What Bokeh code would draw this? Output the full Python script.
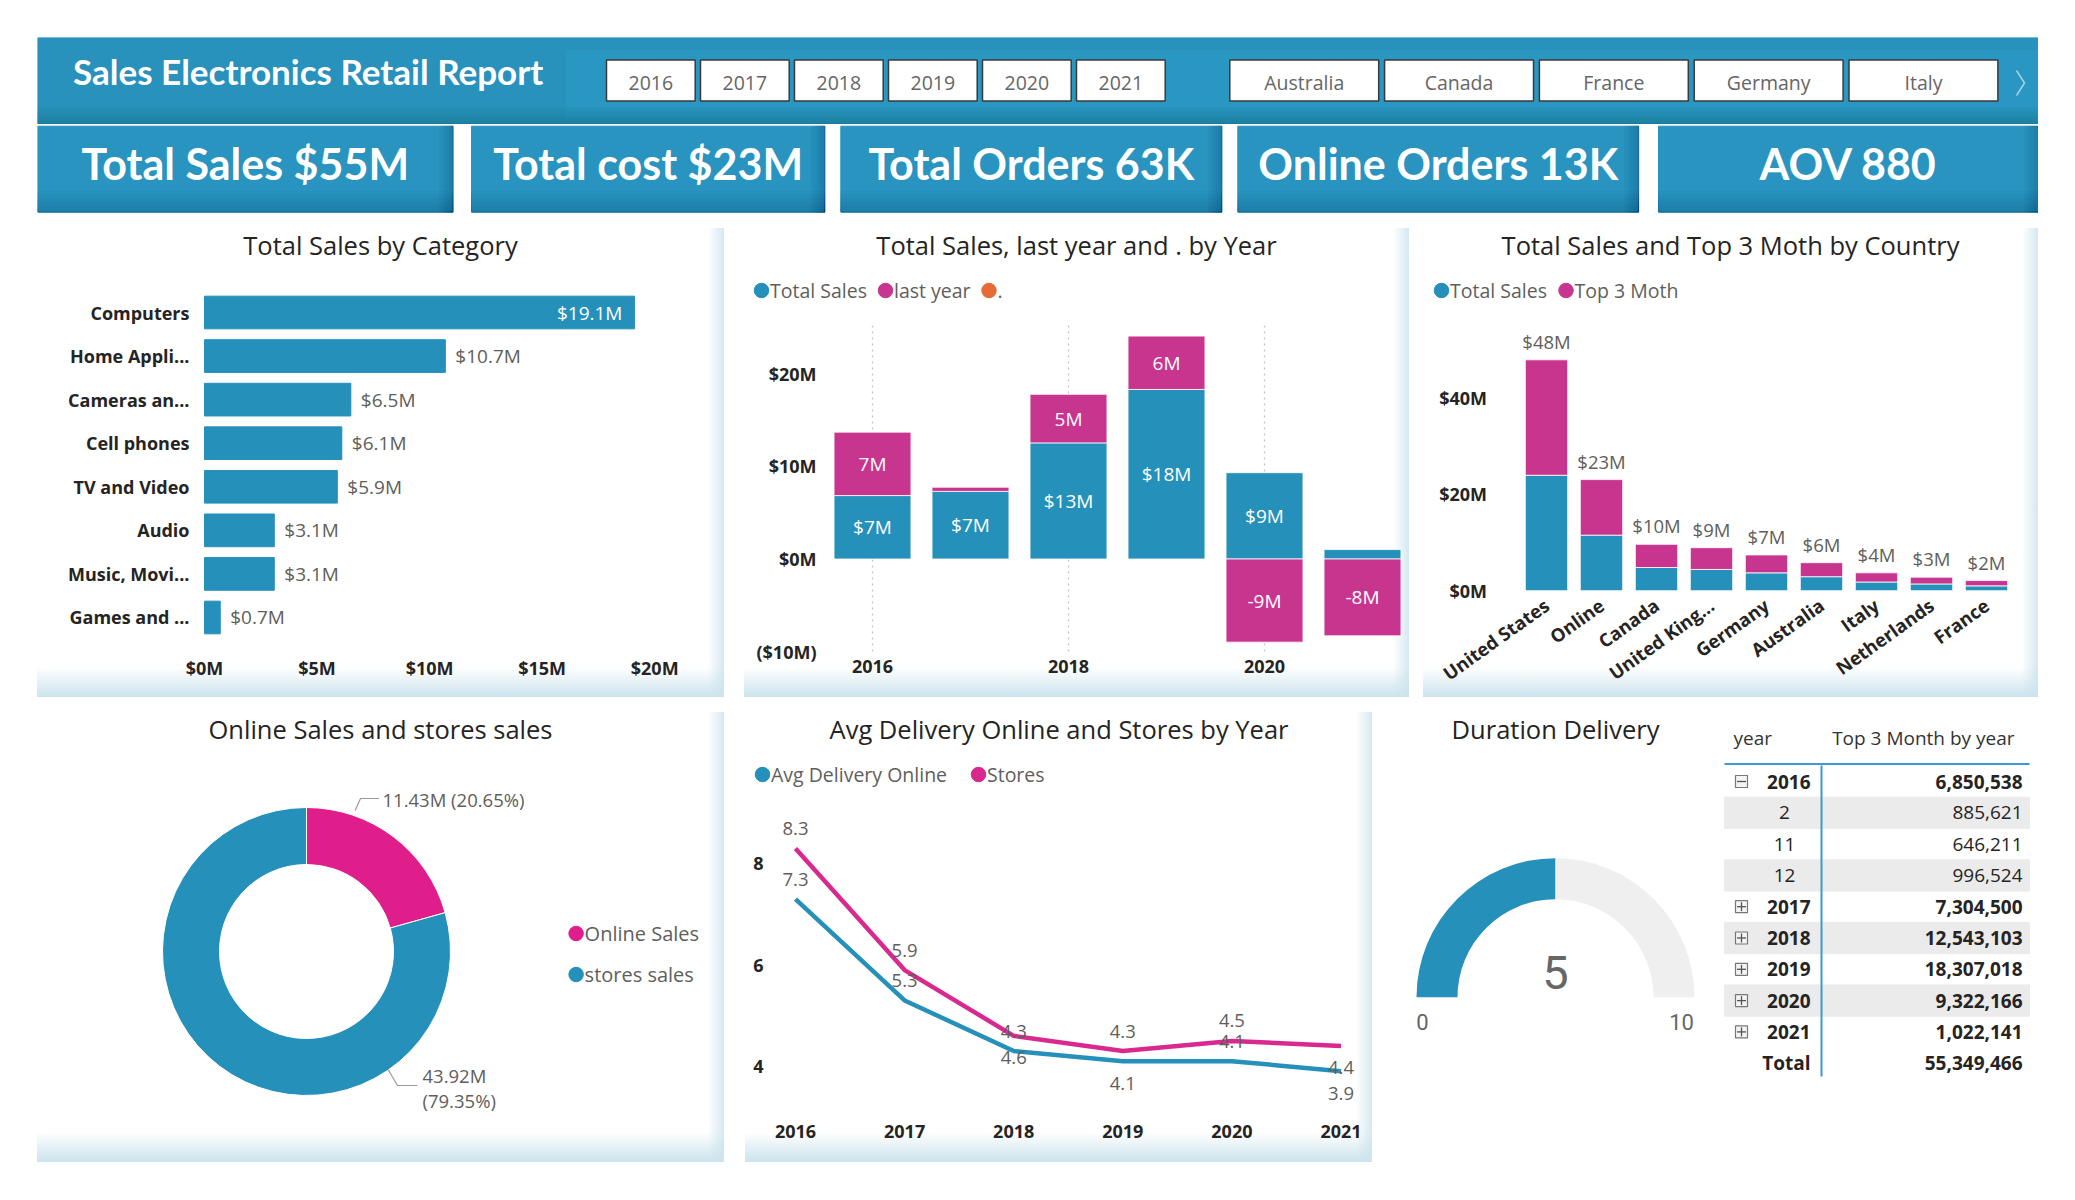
import math

from bokeh.core.properties import value
from bokeh.embed import file_html
from bokeh.layouts import column, row
from bokeh.models import (CustomJSTickFormatter, FixedTicker, Label, PrintfTickFormatter, Range1d)
from bokeh.plotting import figure
from bokeh.resources import INLINE

# ---------------------------------------------------------------- data
KPI_NAMES = ["Total Sales", "Total cost", "Total Orders", "Online Orders", "AOV"]
KPI_VALUES = ["$55M", "$23M", "63K", "13K", "880"]
YEAR_SLICER = ["2016", "2017", "2018", "2019", "2020", "2021"]
COUNTRY_SLICER = ["Australia", "Canada", "France", "Germany", "Italy"]

CATEGORIES = ["Computers", "Home Appli...", "Cameras an...", "Cell phones",
              "TV and Video", "Audio", "Music, Movi...", "Games and ..."]
CATEGORY_SALES = [19.1, 10.7, 6.5, 6.1, 5.9, 3.1, 3.1, 0.7]          # $M

YEARS = [2016, 2017, 2018, 2019, 2020, 2021]
YEAR_SALES = [6.85, 7.30, 12.54, 18.31, 9.32, 1.02]                  # $M
YEAR_CHANGE = [6.85, 0.45, 5.24, 5.76, -8.98, -8.30]                 # vs last year, $M
YEAR_TICKS = [2016, 2018, 2020]

COUNTRIES = ["United States", "Online", "Canada", "United King...", "Germany",
             "Australia", "Italy", "Netherlands", "France"]
COUNTRY_SALES = [23.9, 11.5, 4.8, 4.4, 3.7, 2.9, 1.8, 1.4, 1.0]       # $M
COUNTRY_TOP3 = [23.9, 11.5, 4.8, 4.5, 3.7, 2.9, 1.9, 1.4, 1.1]        # $M

CHANNELS = ["Online Sales", "stores sales"]
CHANNEL_SALES = [11.43, 43.92]                                      # $M

DELIVERY_ONLINE = [7.3, 5.3, 4.3, 4.1, 4.1, 3.9]
DELIVERY_STORES = [8.3, 5.9, 4.6, 4.3, 4.5, 4.4]

GAUGE_MIN, GAUGE_VALUE, GAUGE_MAX = 0, 5, 10

TABLE_YEARS = ["2016", "2017", "2018", "2019", "2020", "2021"]
TABLE_YEAR_VALUES = [6850538, 7304500, 12543103, 18307018, 9322166, 1022141]
TABLE_2016_MONTHS = ["2", "11", "12"]
TABLE_2016_MONTH_VALUES = [885621, 646211, 996524]
TABLE_TOTAL = 55349466

# ---------------------------------------------------------------- styling
TEAL = "#2590BA"
MAGENTA = "#C8358F"
DONUT_PINK = "#E01E8B"
LINE_PINK = "#D9298F"
ORANGE = "#E66C37"
HEADER_BLUE = "#2892BD"
SLICER_BLUE = "#2A97C2"
CARD_BLUE = "#2894BF"
DARK = "#252423"
GRAY = "#605E5C"
GRID_GRAY = "#C4C4C4"
GAUGE_TRACK = "#EFEFEF"
TABLE_BLUE = "#3C9AD2"
ROW_SHADE = "#EBEBEB"

TITLE_FONT = "Open Sans"
LABEL_FONT = "Open Sans"
HEAD_FONT = "Lato"

PANEL_STYLES = {
    "background-color": "#ffffff",
    "background-image": (
        "linear-gradient(to bottom, rgba(255,255,255,0) calc(100% - 30px), rgba(204,227,237,1) 100%), "
        "linear-gradient(to right, rgba(255,255,255,0) calc(100% - 16px), rgba(212,232,240,1) 100%)"
    ),
}


def base_fig(width, height, x_range, y_range, **kw):
    """Chart whose plot frame fills the whole panel; axes are pinned inside it."""
    p = figure(width=width, height=height, x_range=x_range, y_range=y_range,
               output_backend="svg", toolbar_location=None, min_border=0, **kw)
    p.outline_line_color = None
    p.border_fill_alpha = 0
    p.background_fill_alpha = 0
    return p


def pixel_fig(width, height):
    """Figure whose data space is its own pixel grid (y up)."""
    return base_fig(width, height, Range1d(0, width), Range1d(0, height),
                    x_axis_type=None, y_axis_type=None)


def x_span(d0, p0, scale, width):
    """x range putting value d0 at p0 px from the panel's left edge."""
    return Range1d(d0 - p0 / scale, d0 + (width - p0) / scale)


def y_span(d0, p0, scale, height):
    """y range putting value d0 at p0 px below the panel's top edge."""
    return Range1d(d0 - (height - p0) / scale, d0 + p0 / scale)


def style_axis(ax, size=18, standoff=8):
    ax.axis_line_color = None
    ax.major_tick_line_color = None
    ax.minor_tick_line_color = None
    ax.major_tick_out = 0
    ax.major_tick_in = 0
    ax.major_label_standoff = standoff
    ax.major_label_text_font = LABEL_FONT
    ax.major_label_text_font_style = "bold"
    ax.major_label_text_font_size = f"{size}px"
    ax.major_label_text_color = DARK


def add_label(p, x, y, text, size, color=DARK, font=TITLE_FONT, bold=False, align="center"):
    """Text at panel pixel (x, y) measured from the panel's top-left corner."""
    p.add_layout(Label(x=x, y=p.height - y, x_units="screen", y_units="screen",
                       text=text, text_align=align, text_baseline="middle",
                       text_font=font, text_font_size=f"{size}px", text_color=color,
                       text_font_style="bold" if bold else "normal"))


def add_key(p, names, colors, xs, ys, size=19.5):
    """Circle + name legend entries; xs/ys are swatch centres in panel pixels."""
    xr, yr = p.x_range, p.y_range
    dx = [xr.start + x / p.width * (xr.end - xr.start) for x in xs]
    dy = [yr.end - y / p.height * (yr.end - yr.start) for y in ys]
    p.scatter(x=dx, y=dy, marker="circle", size=14.5, fill_color=colors, line_color=colors)
    for name, x, y in zip(names, xs, ys):
        add_label(p, x + 8.5, y, name, size, color=GRAY, font=LABEL_FONT, align="left")


# ---------------------------------------------------------------- header + KPI cards
TOP_W, TOP_H = 2001, 177
top = pixel_fig(TOP_W, TOP_H)


def fy(y):
    return TOP_H - y


top.quad(left=0, right=TOP_W, top=fy(0), bottom=fy(86), color=HEADER_BLUE)
top.quad(left=529, right=TOP_W, top=fy(13), bottom=fy(79), color=SLICER_BLUE)
for i in range(8):
    top.quad(left=0, right=TOP_W, top=fy(70 + 2 * i), bottom=fy(86), color="#123f55", alpha=0.028)

top.text(x=[270.7], y=[fy(33)], text=["Sales Electronics Retail Report"],
         text_font=value(HEAD_FONT), text_font_style="bold", text_font_size="35px",
         text_color="white", text_align="center", text_baseline="middle")

year_left = [569 + i * 94 for i in range(len(YEAR_SLICER))]
top.quad(left=year_left, right=[l + 88.7 for l in year_left], top=fy(22.5), bottom=fy(63.6),
         fill_color="white", line_color="#3a3a3a", line_width=1.5)
top.text(x=[l + 44.35 for l in year_left], y=[fy(45)] * len(YEAR_SLICER), text=YEAR_SLICER,
         text_font=value(LABEL_FONT), text_font_size="19.5px", text_color="#666666",
         text_align="center", text_baseline="middle")
country_left = [1192.3 + i * 154.8 for i in range(len(COUNTRY_SLICER))]
top.quad(left=country_left, right=[l + 148.9 for l in country_left], top=fy(22.5), bottom=fy(63.6),
         fill_color="white", line_color="#3a3a3a", line_width=1.5)
top.text(x=[l + 74.45 for l in country_left], y=[fy(45)] * len(COUNTRY_SLICER), text=COUNTRY_SLICER,
         text_font=value(LABEL_FONT), text_font_size="19.5px", text_color="#666666",
         text_align="center", text_baseline="middle")
top.line(x=[1979, 1987, 1979], y=[fy(33), fy(45.5), fy(58)], line_color="#9fd0e4", line_width=1.6)

CARD_EDGES = [(0, 415.6), (434, 787.4), (803.3, 1184.4), (1200.3, 1601.2), (1621, 2001)]
CARD_TOP, CARD_BOTTOM = 88.7, 174.7
top.quad(left=[a for a, _ in CARD_EDGES], right=[b for _, b in CARD_EDGES],
         top=fy(CARD_TOP), bottom=fy(CARD_BOTTOM), color=CARD_BLUE)
for i in range(10):
    top.quad(left=[a for a, _ in CARD_EDGES], right=[b for _, b in CARD_EDGES],
             top=fy(154 + 2 * i), bottom=fy(CARD_BOTTOM), color="#0d4a66", alpha=0.02)
    top.quad(left=[b - 1.4 * (i + 1) for _, b in CARD_EDGES], right=[b for _, b in CARD_EDGES],
             top=fy(CARD_TOP), bottom=fy(CARD_BOTTOM), color="#0d4a66", alpha=0.02)
top.text(x=[(a + b) / 2 for a, b in CARD_EDGES], y=[fy(126)] * len(KPI_NAMES),
         text=[f"{n} {v}" for n, v in zip(KPI_NAMES, KPI_VALUES)],
         text_font=value(HEAD_FONT), text_font_style="bold", text_font_size="43px",
         text_color="white", text_align="center", text_baseline="middle")

# ---------------------------------------------------------------- Total Sales by Category
W1, H1 = 687, 469
ROW_PX = 43.57                       # px per category row
cat_pos = list(range(len(CATEGORIES)))  # 0 = top row
p1 = base_fig(W1, H1, x_range=x_span(0, 167, 22.51, W1),
              y_range=Range1d((H1 - 84) / ROW_PX, -84 / ROW_PX))
p1.styles = PANEL_STYLES
p1.hbar(y=cat_pos, left=0, right=CATEGORY_SALES, height=0.75, color=TEAL)
cut = 0.8 * max(CATEGORY_SALES)
inside = [(i, v) for i, v in zip(cat_pos, CATEGORY_SALES) if v >= cut]
outside = [(i, v) for i, v in zip(cat_pos, CATEGORY_SALES) if v < cut]
p1.text(x=[v for _, v in inside], y=[i for i, _ in inside], text=[f"${v:.1f}M" for _, v in inside],
        x_offset=-12, text_align="right", text_baseline="middle", text_color="white",
        text_font=value(LABEL_FONT), text_font_size="19px")
p1.text(x=[v for _, v in outside], y=[i for i, _ in outside], text=[f"${v:.1f}M" for _, v in outside],
        x_offset=10, text_align="left", text_baseline="middle", text_color=GRAY,
        text_font=value(LABEL_FONT), text_font_size="19px")
p1.xaxis.ticker = FixedTicker(ticks=[0, 5, 10, 15, 20])
p1.xaxis.formatter = PrintfTickFormatter(format="$%dM")
p1.xaxis.fixed_location = 7.8
p1.yaxis.ticker = FixedTicker(ticks=cat_pos)
p1.yaxis.major_label_overrides = {i: c for i, c in zip(cat_pos, CATEGORIES)}
p1.yaxis.fixed_location = 0
style_axis(p1.xaxis, standoff=4)
style_axis(p1.yaxis, standoff=15)
p1.xgrid.visible = False
p1.ygrid.visible = False
add_label(p1, 343, 16.5, "Total Sales by Category", 25.5)

# ---------------------------------------------------------------- Total Sales, last year by Year
W2, H2 = 665, 469
p2 = base_fig(W2, H2, x_range=x_span(2016, 128, 98, W2), y_range=y_span(0, 330.5, 9.26, H2))
p2.styles = PANEL_STYLES
p2.segment(x0=YEAR_TICKS, x1=YEAR_TICKS, y0=-10, y1=25.5, line_color=GRID_GRAY,
           line_dash="dotted", line_width=1.3)
p2.vbar(x=YEARS, bottom=0, top=YEAR_SALES, width=0.785, fill_color=TEAL,
        line_color="white", line_width=0.8)
chg_bottom = [s if c > 0 else 0 for s, c in zip(YEAR_SALES, YEAR_CHANGE)]
chg_top = [s + c if c > 0 else c for s, c in zip(YEAR_SALES, YEAR_CHANGE)]
p2.vbar(x=YEARS, bottom=chg_bottom, top=chg_top, width=0.785, fill_color=MAGENTA,
        line_color="white", line_width=0.8)
show_s = [i for i, s in enumerate(YEAR_SALES) if abs(s) >= 2]
p2.text(x=[YEARS[i] for i in show_s], y=[YEAR_SALES[i] / 2 for i in show_s],
        text=[f"${YEAR_SALES[i]:.0f}M" for i in show_s], text_align="center", text_baseline="middle",
        text_color="white", text_font=value(LABEL_FONT), text_font_size="19px")
show_c = [i for i, c in enumerate(YEAR_CHANGE) if abs(c) >= 2]
p2.text(x=[YEARS[i] for i in show_c], y=[(chg_bottom[i] + chg_top[i]) / 2 for i in show_c],
        text=[f"{YEAR_CHANGE[i]:.0f}M" for i in show_c], text_align="center", text_baseline="middle",
        text_color="white", text_font=value(LABEL_FONT), text_font_size="19px")
p2.yaxis.ticker = FixedTicker(ticks=[-10, 0, 10, 20])
p2.yaxis.formatter = CustomJSTickFormatter(
    code="return tick < 0 ? '($' + Math.abs(tick) + 'M)' : '$' + tick + 'M';")
p2.yaxis.fixed_location = 2016 - (128 - 76) / 98
p2.xaxis.ticker = FixedTicker(ticks=YEAR_TICKS)
p2.xaxis.fixed_location = -10.6
style_axis(p2.xaxis, standoff=3)
style_axis(p2.yaxis, standoff=4)
p2.xgrid.visible = False
p2.ygrid.visible = False
add_label(p2, 332, 16.5, "Total Sales, last year and . by Year", 25.5)
add_key(p2, ["Total Sales", "last year", "."], [TEAL, MAGENTA, ORANGE], [17, 141, 244.5], [62] * 3)

# ---------------------------------------------------------------- Total Sales and Top 3 by Country
W3, H3 = 615, 469
country_pos = list(range(len(COUNTRIES)))
p3 = base_fig(W3, H3, x_range=x_span(0, 123, 55, W3), y_range=y_span(0, 362.2, 4.83, H3))
p3.styles = PANEL_STYLES
country_total = [s + t for s, t in zip(COUNTRY_SALES, COUNTRY_TOP3)]
p3.vbar(x=country_pos, bottom=0, top=COUNTRY_SALES, width=0.77, fill_color=TEAL,
        line_color="white", line_width=0.8)
p3.vbar(x=country_pos, bottom=COUNTRY_SALES, top=country_total, width=0.77, fill_color=MAGENTA,
        line_color="white", line_width=0.8)
p3.text(x=country_pos, y=country_total, text=[f"${t:.0f}M" for t in country_total], y_offset=-6,
        text_align="center", text_baseline="bottom", text_color=GRAY,
        text_font=value(LABEL_FONT), text_font_size="18.5px")
p3.yaxis.ticker = FixedTicker(ticks=[0, 20, 40])
p3.yaxis.formatter = PrintfTickFormatter(format="$%dM")
p3.yaxis.fixed_location = -0.5
p3.xaxis.ticker = FixedTicker(ticks=country_pos)
p3.xaxis.major_label_overrides = {i: c for i, c in zip(country_pos, COUNTRIES)}
p3.xaxis.fixed_location = 0
style_axis(p3.yaxis, standoff=32)
style_axis(p3.xaxis, size=18.5, standoff=12)
p3.xaxis.major_label_orientation = 0.62
p3.xgrid.visible = False
p3.ygrid.visible = False
add_label(p3, 307, 16.5, "Total Sales and Top 3 Moth by Country", 25.5)
add_key(p3, ["Total Sales", "Top 3 Moth"], [TEAL, MAGENTA], [18, 142.5], [62] * 2)

# ---------------------------------------------------------------- Online vs stores donut
W4, H4 = 687, 450
p4 = pixel_fig(W4, H4)
p4.styles = PANEL_STYLES
CX, CY = 269, H4 - 239
total_sales = sum(CHANNEL_SALES)
fractions = [v / total_sales for v in CHANNEL_SALES]
starts, ends, acc = [], [], 0.0
for f in fractions:
    starts.append(math.pi / 2 - 2 * math.pi * acc)
    acc += f
    ends.append(math.pi / 2 - 2 * math.pi * acc)
p4.annular_wedge(x=[CX] * 2, y=[CY] * 2, inner_radius=87, outer_radius=144,
                 start_angle=starts, end_angle=ends, direction="clock",
                 fill_color=[DONUT_PINK, TEAL], line_color="white", line_width=1)
# leader lines, offsets from the donut centre in px
p4.line(x=[CX + 48.6, CX + 54, CX + 72.5], y=[CY + 141, CY + 153, CY + 153],
        line_color="#9a9a9a", line_width=1.2)
p4.line(x=[CX + 81.7, CX + 91, CX + 110.8], y=[CY - 118.2, CY - 134, CY - 134],
        line_color="#9a9a9a", line_width=1.2)
pct = [f * 100 for f in fractions]
p4.text(x=[CX + 76], y=[CY + 152], text=[f"{CHANNEL_SALES[0]:.2f}M ({pct[0]:.2f}%)"],
        text_align="left", text_baseline="middle", text_color=GRAY,
        text_font=value(LABEL_FONT), text_font_size="18.5px")
p4.text(x=[CX + 116, CX + 116], y=[CY - 123.5, CY - 148.7],
        text=[f"{CHANNEL_SALES[1]:.2f}M", f"({pct[1]:.2f}%)"],
        text_align="left", text_baseline="middle", text_color=GRAY,
        text_font=value(LABEL_FONT), text_font_size="18.5px")
add_label(p4, 343, 16, "Online Sales and stores sales", 25.5)
add_key(p4, CHANNELS, [DONUT_PINK, TEAL], [538.6, 538.6], [221, 262], size=20)

# ---------------------------------------------------------------- Avg delivery lines
W5, H5 = 627, 450
p5 = base_fig(W5, H5, x_range=x_span(2016, 50, 109.1, W5), y_range=y_span(4, 353.7, 50.6, H5))
p5.styles = PANEL_STYLES
p5.line(x=YEARS, y=DELIVERY_ONLINE, line_color=TEAL, line_width=4.5, line_join="round")
p5.line(x=YEARS, y=DELIVERY_STORES, line_color=LINE_PINK, line_width=4.5, line_join="round")
ONLINE_LABEL_SIDE = ["up", "up", "up", "down", "up", "down"]
STORES_LABEL_SIDE = ["up", "up", "down", "up", "up", "down"]
for vals, sides in ((DELIVERY_ONLINE, ONLINE_LABEL_SIDE), (DELIVERY_STORES, STORES_LABEL_SIDE)):
    p5.text(x=YEARS, y=vals, text=[f"{v:.1f}" for v in vals],
            y_offset=[-20 if s == "up" else 22 for s in sides],
            text_align="center", text_baseline="middle", text_color=GRAY,
            text_font=value(LABEL_FONT), text_font_size="18.5px")
p5.xaxis.ticker = FixedTicker(ticks=YEARS)
p5.xaxis.fixed_location = 3.0
p5.yaxis.ticker = FixedTicker(ticks=[4, 6, 8])
p5.yaxis.fixed_location = 2016 - (50 - 30) / 109.1
style_axis(p5.xaxis, standoff=8)
style_axis(p5.yaxis, standoff=12)
p5.xgrid.visible = False
p5.ygrid.visible = False
add_label(p5, 313.5, 16, "Avg Delivery Online and Stores by Year", 25.5)
add_key(p5, ["Avg Delivery Online", "Stores"], [TEAL, LINE_PINK], [17, 233], [62] * 2)

# ---------------------------------------------------------------- gauge + yearly table
W6, H6 = 648, 450
p6 = pixel_fig(W6, H6)


def gy(y):
    return H6 - y


GX, GY = 165, gy(284.7)
frac = (GAUGE_VALUE - GAUGE_MIN) / (GAUGE_MAX - GAUGE_MIN)
p6.annular_wedge(x=[GX, GX], y=[GY, GY], inner_radius=98, outer_radius=139,
                 start_angle=[math.pi, math.pi - math.pi * frac],
                 end_angle=[math.pi - math.pi * frac, 0], direction="clock",
                 fill_color=[TEAL, GAUGE_TRACK], line_color=None)
p6.text(x=[GX], y=[gy(259.7)], text=[str(GAUGE_VALUE)], text_align="center", text_baseline="middle",
        text_color="#666666", text_font=value("Roboto"), text_font_size="47px")
p6.text(x=[32, 291], y=[gy(309)] * 2, text=[str(GAUGE_MIN), str(GAUGE_MAX)],
        text_align="center", text_baseline="middle", text_color="#666666",
        text_font=value("Roboto"), text_font_size="22px")
p6.text(x=[GX], y=[gy(16)], text=["Duration Delivery"], text_align="center", text_baseline="middle",
        text_color=DARK, text_font=value(TITLE_FONT), text_font_size="25.5px")

# table rows: (label, value, bold, expander)
table_rows = [(TABLE_YEARS[0], TABLE_YEAR_VALUES[0], True, "-")]
table_rows += [(m, v, False, None) for m, v in zip(TABLE_2016_MONTHS, TABLE_2016_MONTH_VALUES)]
table_rows += [(y, v, True, "+") for y, v in zip(TABLE_YEARS[1:], TABLE_YEAR_VALUES[1:])]
table_rows += [("Total", TABLE_TOTAL, True, None)]
ROW0, ROW_H = 69, 31.3
row_y = [ROW0 + i * ROW_H for i in range(len(table_rows))]
shade = [i for i in range(len(table_rows)) if i % 2 == 1 and i < len(table_rows) - 1]
p6.quad(left=334, right=639, top=[gy(row_y[i] - ROW_H / 2) for i in shade],
        bottom=[gy(row_y[i] + ROW_H / 2) for i in shade], color=ROW_SHADE)
p6.text(x=[343], y=[gy(25)], text=["year"], text_align="left", text_baseline="middle",
        text_color="#333333", text_font=value(LABEL_FONT), text_font_size="19px")
p6.text(x=[624], y=[gy(25)], text=["Top 3 Month by year"], text_align="right", text_baseline="middle",
        text_color="#333333", text_font=value(LABEL_FONT), text_font_size="19px")
p6.line(x=[334, 639], y=[gy(51.5)] * 2, line_color=TABLE_BLUE, line_width=2)
p6.line(x=[431, 431], y=[gy(53), gy(364)], line_color=TABLE_BLUE, line_width=2)

for bold in (True, False):
    idx = [i for i, r in enumerate(table_rows) if r[2] == bold]
    style = "bold" if bold else "normal"
    p6.text(x=[420 if bold else 394 for _ in idx], y=[gy(row_y[i]) for i in idx],
            text=[table_rows[i][0] for i in idx], text_align="right" if bold else "center",
            text_baseline="middle", text_color=DARK, text_font=value(LABEL_FONT),
            text_font_style=style, text_font_size="19px")
    p6.text(x=[632] * len(idx), y=[gy(row_y[i]) for i in idx],
            text=[f"{table_rows[i][1]:,}" for i in idx], text_align="right",
            text_baseline="middle", text_color=DARK, text_font=value(LABEL_FONT),
            text_font_style=style, text_font_size="19px")

exp_idx = [i for i, r in enumerate(table_rows) if r[3] is not None]
p6.rect(x=[351] * len(exp_idx), y=[gy(row_y[i]) for i in exp_idx], width=12, height=12,
        fill_color="#f4f4f4", line_color="#777777", line_width=1.2)
p6.segment(x0=[346.5] * len(exp_idx), x1=[355.5] * len(exp_idx),
           y0=[gy(row_y[i]) for i in exp_idx], y1=[gy(row_y[i]) for i in exp_idx],
           line_color="#555555", line_width=1.3)
plus_idx = [i for i in exp_idx if table_rows[i][3] == "+"]
p6.segment(x0=[351] * len(plus_idx), x1=[351] * len(plus_idx),
           y0=[gy(row_y[i]) - 4.5 for i in plus_idx], y1=[gy(row_y[i]) + 4.5 for i in plus_idx],
           line_color="#555555", line_width=1.3)

# ---------------------------------------------------------------- page layout
top.margin = (37, 0, 0, 37)
p2.margin = (0, 0, 0, 20)
p3.margin = (0, 0, 0, 14)
p5.margin = (0, 0, 0, 21)
p6.margin = (0, 0, 0, 18)
row1 = row(p1, p2, p3)
row1.margin = (14, 0, 0, 37)
row2 = row(p4, p5, p6)
row2.margin = (15, 0, 0, 37)
page = column(top, row1, row2)

open("out.html", "w").write(file_html(page, INLINE, title="Sales Electronics Retail Report"))
